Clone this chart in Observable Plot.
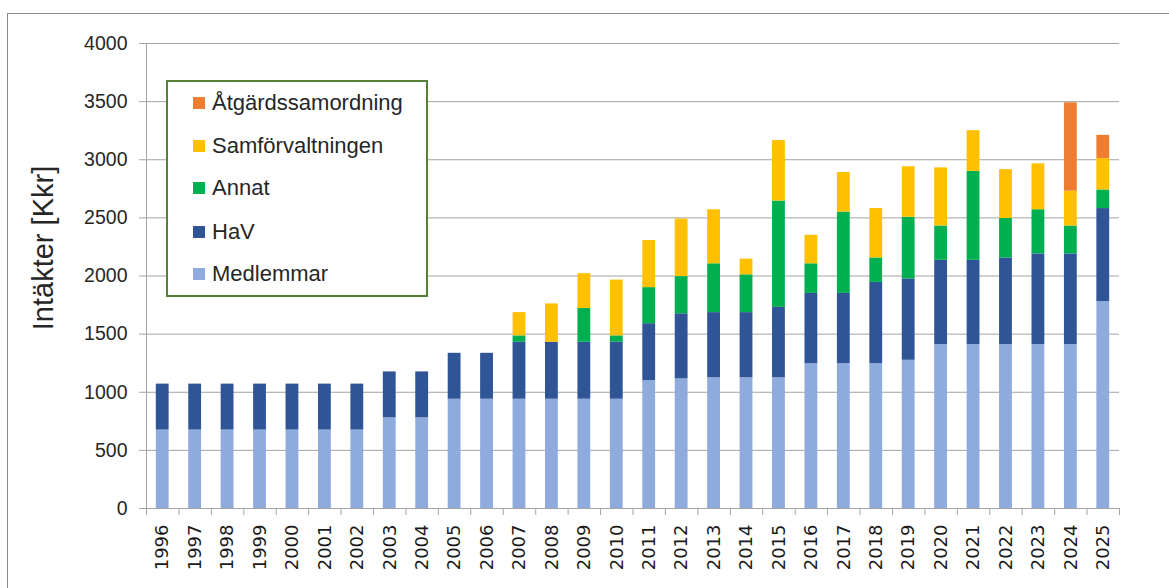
<!DOCTYPE html>
<html><head><meta charset="utf-8">
<script src="https://cdn.jsdelivr.net/npm/d3@7"></script>
<script src="https://cdn.jsdelivr.net/npm/@observablehq/plot@0.6"></script>
<style>
body{margin:0;background:#fff;width:1169px;height:588px;overflow:hidden;position:relative;font-family:"Liberation Sans",sans-serif;}
#frame{position:absolute;left:7px;top:13px;width:1220px;height:640px;border:1px solid #8c8c8c;}
#chart{position:absolute;left:0;top:0;}
#ytitle{position:absolute;left:43px;top:248px;transform:translate(-50%,-50%) rotate(-90deg);font-size:29px;white-space:nowrap;color:#262626;}
#legend{position:absolute;left:166px;top:80px;width:258px;height:213px;border:2px solid #548235;background:#fff;}
.item{position:absolute;left:25px;height:24px;display:flex;align-items:center;font-size:22px;color:#262626;white-space:nowrap;}
.sw{width:12px;height:12px;margin-right:7px;}
</style></head>
<body>
<div id="frame"></div>
<div id="chart"></div>
<div id="ytitle">Intäkter [Kkr]</div>
<div id="legend"></div>
<script>
const years = [1996,1997,1998,1999,2000,2001,2002,2003,2004,2005,2006,2007,2008,2009,2010,2011,2012,2013,2014,2015,2016,2017,2018,2019,2020,2021,2022,2023,2024,2025];
const medlemmar = [675,675,675,675,675,675,675,780,780,940,940,940,940,940,940,1100,1115,1125,1125,1125,1245,1245,1245,1275,1410,1410,1410,1410,1410,1780];
const hav = [395,395,395,395,395,395,395,395,395,395,395,490,490,490,490,490,560,560,560,605,605,605,700,700,725,725,745,780,780,800];
const annat = [0,0,0,0,0,0,0,0,0,0,0,55,0,290,55,310,320,420,325,915,255,700,210,530,295,765,340,380,240,160];
const samf = [0,0,0,0,0,0,0,0,0,0,0,200,330,300,480,405,495,465,135,520,245,340,425,435,500,350,420,395,300,270];
const atg = [0,0,0,0,0,0,0,0,0,0,0,0,0,0,0,0,0,0,0,0,0,0,0,0,0,0,0,0,760,200];
const seriesNames = ["Medlemmar","HaV","Annat","Samförvaltningen","Åtgärdssamordning"];
const seriesColors = ["#8FAADC","#2F5597","#00B050","#FFC000","#ED7D31"];
const yTicks = [0,500,1000,1500,2000,2500,3000,3500,4000];
const boundaries = [1995.5,1996.5,1997.5,1998.5,1999.5,2000.5,2001.5,2002.5,2003.5,2004.5,2005.5,2006.5,2007.5,2008.5,2009.5,2010.5,2011.5,2012.5,2013.5,2014.5,2015.5,2016.5,2017.5,2018.5,2019.5,2020.5,2021.5,2022.5,2023.5,2024.5,2025.5];

const seriesValues = [medlemmar, hav, annat, samf, atg];
const data = [];
seriesNames.forEach((s, k) => years.forEach((y, i) => data.push({year: y, series: s, value: seriesValues[k][i]})));

const grid = "#a3a3a3";
const plot = Plot.plot({
  width: 1169, height: 588,
  marginLeft: 146, marginRight: 50, marginTop: 43, marginBottom: 80,
  style: {fontFamily: "Liberation Sans", color: "#262626", background: "transparent"},
  x: {type: "linear", domain: [1995.5, 2025.5]},
  y: {domain: [0, 4000]},
  color: {domain: seriesNames, range: seriesColors},
  marks: [
    Plot.ruleY(yTicks, {stroke: grid}),
    Plot.rectY(data, Plot.stackY({x1: d => d.year - 0.5, x2: d => d.year + 0.5, y: "value", fill: "series", order: seriesNames, insetLeft: 9.8, insetRight: 9.8})),
    Plot.ruleX([1995.5], {stroke: grid}),
    Plot.ruleY([0], {stroke: grid}),
    Plot.axisY({ticks: yTicks, tickSize: 7, tickPadding: 12, fontSize: 19.5, label: null, stroke: grid, fill: "#262626", tickFormat: d => String(d)}),
    Plot.axisX({ticks: boundaries, tickSize: 7, label: null, stroke: grid, tickFormat: () => ""}),
    Plot.axisX({ticks: years, tickSize: 0, tickRotate: -90, tickPadding: 16, fontSize: 18, fontFamily: "DejaVu Sans", label: null, fill: "#1a1a1a", tickFormat: d => String(d)})
  ]
});
document.getElementById("chart").appendChild(plot);
// year labels in a wider sans face
plot.querySelectorAll("text").forEach(t => {
  if (/^\d{4}$/.test(t.textContent) && years.includes(+t.textContent) && t.closest('g[aria-label^="x-axis"]')) {
    t.style.fontFamily = "'DejaVu Sans'";
  }
});

const legend = document.getElementById("legend");
const tops = [9, 52, 94, 138, 180];
const order = [4, 3, 2, 1, 0];
order.forEach((k, j) => {
  const it = document.createElement("div");
  it.className = "item";
  it.style.top = tops[j] + "px";
  const sw = document.createElement("span");
  sw.className = "sw";
  sw.style.background = seriesColors[k];
  const tx = document.createElement("span");
  tx.textContent = seriesNames[k];
  it.appendChild(sw); it.appendChild(tx);
  legend.appendChild(it);
});
</script>
</body></html>
